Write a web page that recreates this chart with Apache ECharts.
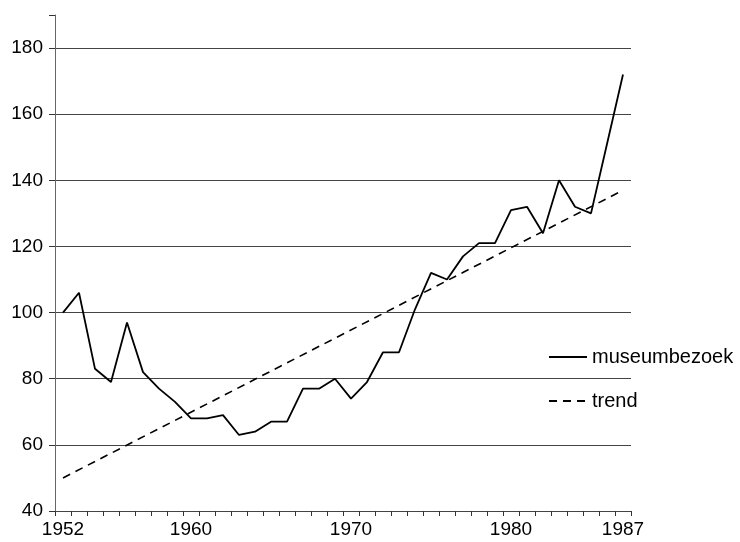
<!DOCTYPE html>
<html>
<head>
<meta charset="utf-8">
<script src="https://cdn.jsdelivr.net/npm/echarts@6/dist/echarts.min.js"></script>
<style>
  html, body { margin: 0; padding: 0; background: #fff; }
  #chart { width: 740px; height: 542px; }
</style>
</head>
<body>
<div id="chart"></div>
<script>
// years on the x axis
var years = [];
for (var y = 1952; y <= 1987; y++) years.push(String(y));
var labelYears = ['1952', '1960', '1970', '1980', '1987'];

// museum visits (index)
var museumbezoek = [
  100, 106, 83, 79, 97, 82, 77, 73, 68, 68,
  69, 63, 64, 67, 67, 77, 77, 80, 74, 79,
  88, 88, 101, 112, 110, 117, 121, 121, 131, 132,
  124, 140, 132, 130, 151, 172
];

// trend line end points
var trend = [['1952', 50], ['1987', 137]];

var yTicks = [40, 60, 80, 100, 120, 140, 160, 180];

var chart = echarts.init(document.getElementById('chart'));
var font = 'Liberation Sans, Arial, sans-serif';

chart.setOption({
  animation: false,
  backgroundColor: '#fff',
  textStyle: { fontFamily: font },
  grid: { left: 55, right: 109, top: 15, bottom: 31 },
  legend: {
    orient: 'vertical',
    left: 543,
    top: 342,
    itemWidth: 38,
    itemHeight: 14,
    itemGap: 24,
    itemStyle: { opacity: 0 },
    textStyle: { fontSize: 20, color: '#000', fontFamily: font },
    data: ['museumbezoek', 'trend']
  },
  xAxis: {
    type: 'category',
    data: years,
    boundaryGap: true,
    axisLine: { lineStyle: { color: '#444', width: 1 } },
    axisTick: { show: true, alignWithLabel: false, interval: 0, length: 5, lineStyle: { color: '#333', width: 1 } },
    axisLabel: {
      interval: function (i, v) { return labelYears.indexOf(v) >= 0; },
      color: '#000', fontSize: 19, margin: 9, fontFamily: font
    },
    splitLine: { show: false }
  },
  yAxis: {
    type: 'value',
    min: 40,
    max: 190,
    interval: 20,
    axisLine: { show: true, lineStyle: { color: '#666', width: 1 } },
    axisTick: { show: true, length: 6, lineStyle: { color: '#333' } },
    axisLabel: { customValues: yTicks, color: '#000', fontSize: 19, margin: 12, fontFamily: font },
    splitLine: { show: true, showMaxLine: false, lineStyle: { color: '#444', width: 1 } }
  },
  series: [
    {
      name: 'museumbezoek',
      type: 'line',
      data: museumbezoek,
      symbol: 'none',
      lineStyle: { color: '#000', width: 1.8 },
      itemStyle: { color: '#000' }
    },
    {
      name: 'trend',
      type: 'line',
      data: trend,
      symbol: 'none',
      lineStyle: { color: '#000', width: 1.6, type: [8, 6] },
      itemStyle: { color: '#000' }
    }
  ]
});
</script>
</body>
</html>
